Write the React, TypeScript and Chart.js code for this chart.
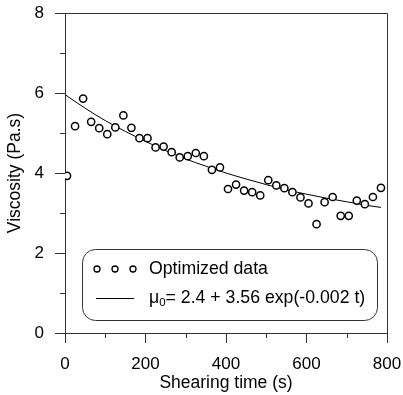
import React, { useEffect, useRef } from "react";
import { Chart, registerables } from "chart.js";

Chart.register(...registerables);

// ---- data ----
const shearTimes = [5, 25, 45, 65, 85, 105, 125, 145, 165, 185, 205, 225, 245, 265, 285, 305, 325, 345, 365, 385,
  405, 425, 445, 465, 485, 505, 525, 545, 565, 585, 605, 625, 645, 665, 685, 705, 725, 745, 765, 785];
const viscosity = [3.93, 5.17, 5.86, 5.28, 5.12, 4.97, 5.14, 5.44, 5.13, 4.87, 4.87, 4.64, 4.66, 4.52, 4.39, 4.42, 4.5, 4.42, 4.08, 4.14,
  3.6, 3.71, 3.56, 3.52, 3.44, 3.82, 3.69, 3.62, 3.52, 3.39, 3.24, 2.72, 3.27, 3.4, 2.93, 2.93, 3.31, 3.22, 3.4, 3.63];

const fitTimes = [0, 50, 100, 150, 200, 250, 300, 350, 400, 450, 500, 550, 600, 650, 700, 750, 785];
const fitValues = [5.96, 5.62, 5.31, 5.04, 4.79, 4.56, 4.35, 4.17, 4.0, 3.85, 3.71, 3.58, 3.47, 3.37, 3.28, 3.19, 3.14];

const xTitle = "Shearing time (s)";
const yTitle = "Viscosity (Pa.s)";
const legendData = "Optimized data";
const legendFitSymbol = "\u03bc";
const legendFitSub = "0";
const legendFitText = "= 2.4 + 3.56 exp(-0.002 t)";

const FONT = "'Liberation Sans', Arial, sans-serif";
const AXIS = "#333333";

const framePlugin = {
  id: "frameAndMinor",
  afterDraw(chart: any) {
    const ctx = chart.ctx;
    const { left, right, top, bottom } = chart.chartArea;
    ctx.save();
    ctx.strokeStyle = AXIS;
    ctx.lineWidth = 1;
    // frame
    ctx.beginPath();
    ctx.moveTo(Math.round(left) + 0.5, Math.round(top) + 0.5);
    ctx.lineTo(Math.round(right) + 0.5, Math.round(top) + 0.5);
    ctx.lineTo(Math.round(right) + 0.5, Math.round(bottom) + 0.5);
    ctx.stroke();
    // minor ticks
    const xs = chart.scales.x;
    const ys = chart.scales.y;
    const xt = xs.ticks.map((t: any) => t.value);
    const yt = ys.ticks.map((t: any) => t.value);
    ctx.beginPath();
    for (let i = 0; i < xt.length - 1; i++) {
      const px = Math.round(xs.getPixelForValue((xt[i] + xt[i + 1]) / 2)) + 0.5;
      ctx.moveTo(px, Math.round(bottom));
      ctx.lineTo(px, Math.round(bottom) + 5);
    }
    for (let i = 0; i < yt.length - 1; i++) {
      const py = Math.round(ys.getPixelForValue((yt[i] + yt[i + 1]) / 2)) + 0.5;
      ctx.moveTo(Math.round(left), py);
      ctx.lineTo(Math.round(left) - 5, py);
    }
    ctx.stroke();
    ctx.restore();
  },
};

const legendPlugin = {
  id: "roundLegend",
  afterDraw(chart: any) {
    const ctx = chart.ctx;
    const { left, right, bottom } = chart.chartArea;
    const bx = left + 17;
    const bw = right - 10 - bx;
    const bh = 71;
    const by = bottom - 13 - bh;
    ctx.save();
    ctx.strokeStyle = AXIS;
    ctx.lineWidth = 1;
    ctx.fillStyle = "#ffffff";
    ctx.beginPath();
    ctx.roundRect(Math.round(bx) + 0.5, Math.round(by) + 0.5, Math.round(bw), bh, 13);
    ctx.fill();
    ctx.stroke();

    const row1 = by + 20;
    const row2 = by + 49;
    const symX = bx + 15;
    // circles
    ctx.strokeStyle = "#000";
    ctx.lineWidth = 1.3;
    for (let i = 0; i < 3; i++) {
      ctx.beginPath();
      ctx.arc(symX + i * 18, row1, 3, 0, Math.PI * 2);
      ctx.stroke();
    }
    // line sample
    ctx.lineWidth = 1;
    ctx.beginPath();
    ctx.moveTo(symX - 1, row2 + 0.5);
    ctx.lineTo(symX + 37, row2 + 0.5);
    ctx.stroke();

    ctx.fillStyle = "#000";
    ctx.textBaseline = "middle";
    ctx.textAlign = "left";
    const tx = bx + 67;
    ctx.font = `17.7px ${FONT}`;
    ctx.fillText(legendData, tx, row1);
    ctx.fillText(legendFitSymbol, tx, row2);
    let cx = tx + ctx.measureText(legendFitSymbol).width;
    ctx.font = `11.5px ${FONT}`;
    ctx.fillText(legendFitSub, cx, row2 + 5);
    cx += ctx.measureText(legendFitSub).width;
    ctx.font = `17.7px ${FONT}`;
    ctx.fillText(legendFitText, cx, row2);
    ctx.restore();
  },
};

export default function App() {
  const ref = useRef<HTMLCanvasElement>(null);
  useEffect(() => {
    if (!ref.current) return;
    const chart = new Chart(ref.current, {
      type: "scatter",
      data: {
        datasets: [
          {
            label: legendData,
            data: shearTimes.map((t, i) => ({ x: t, y: viscosity[i] })),
            pointRadius: 3.6,
            pointBorderWidth: 1.5,
            pointBorderColor: "#000",
            pointBackgroundColor: "#fff",
            showLine: false,
            order: 0,
          },
          {
            label: "fit",
            data: fitTimes.map((t, i) => ({ x: t, y: fitValues[i] })),
            showLine: true,
            pointRadius: 0,
            borderColor: "#000",
            borderWidth: 1,
            tension: 0.4,
            cubicInterpolationMode: "monotone",
            order: 1,
          },
        ],
      },
      options: {
        responsive: false,
        animation: false,
        devicePixelRatio: 1,
        layout: { padding: { top: 13, right: 16, left: 0, bottom: 0 } },
        plugins: { legend: { display: false }, tooltip: { enabled: false } },
        scales: {
          x: {
            type: "linear",
            min: 0,
            max: 800,
            afterFit: (s: any) => { s.height = 62; s.paddingLeft = 0; s.paddingRight = 0; },
            ticks: { stepSize: 200, color: "#000", padding: 11, font: { family: FONT, size: 17 }, maxRotation: 0 },
            grid: { display: true, drawOnChartArea: false, drawTicks: true, tickLength: 10, tickColor: AXIS },
            border: { display: true, color: AXIS, width: 1 },
            title: { display: true, text: xTitle, color: "#000", font: { family: FONT, size: 17.5 }, padding: { top: 0, bottom: 1 } },
          },
          y: {
            type: "linear",
            min: 0,
            max: 8,
            afterFit: (s: any) => { s.width = 65; s.paddingTop = 0; s.paddingBottom = 0; },
            ticks: { stepSize: 2, color: "#000", padding: 11, font: { family: FONT, size: 17 } },
            grid: { display: true, drawOnChartArea: false, drawTicks: true, tickLength: 10, tickColor: AXIS },
            border: { display: true, color: AXIS, width: 1 },
            title: { display: true, text: yTitle, color: "#000", font: { family: FONT, size: 17.5 }, padding: { top: 5, bottom: 0 } },
          },
        },
      },
      plugins: [framePlugin, legendPlugin],
    });
    return () => chart.destroy();
  }, []);
  return (
    <div style={{ position: "absolute", left: 0, top: 0, width: 403, height: 395, background: "#fff" }}>
      <canvas ref={ref} width={403} height={395} style={{ display: "block", width: 403, height: 395 }} />
    </div>
  );
}
